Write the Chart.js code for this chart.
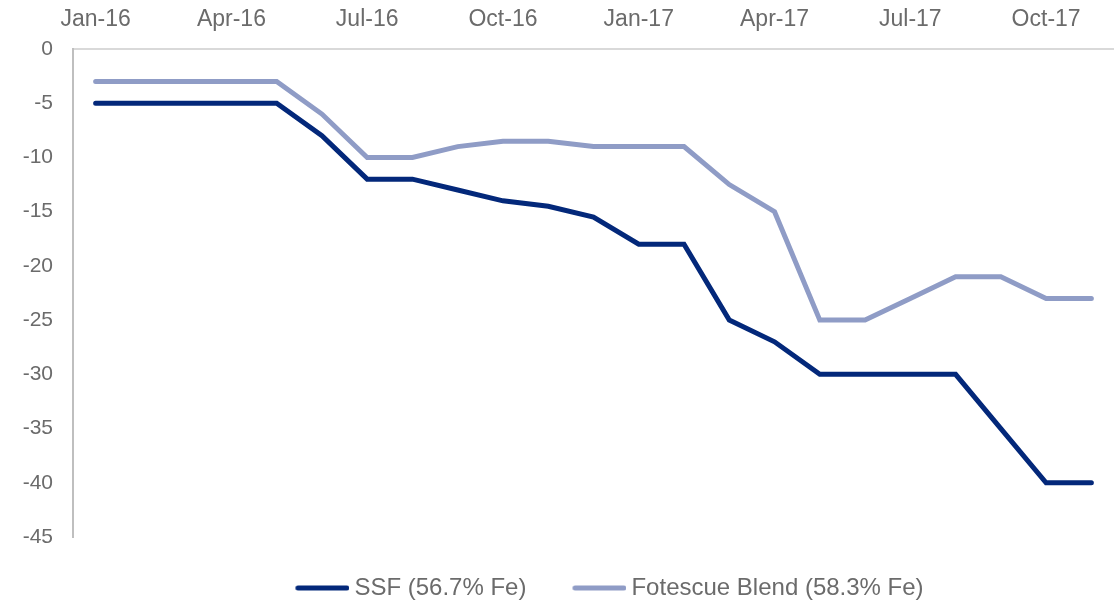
<!DOCTYPE html>
<html>
<head>
<meta charset="utf-8">
<script src="https://cdn.jsdelivr.net/npm/chart.js@4"></script>
<style>
html,body{margin:0;padding:0;background:#fff;}
#wrap{width:1114px;height:600px;position:relative;}
</style>
</head>
<body>
<div id="wrap"><canvas id="c" width="1114" height="600"></canvas></div>
<script>
const months = ['Jan-16','Feb-16','Mar-16','Apr-16','May-16','Jun-16','Jul-16','Aug-16','Sep-16','Oct-16','Nov-16','Dec-16',
                'Jan-17','Feb-17','Mar-17','Apr-17','May-17','Jun-17','Jul-17','Aug-17','Sep-17','Oct-17','Nov-17'];
const ssf = [-5,-5,-5,-5,-5,-8,-12,-12,-13,-14,-14.5,-15.5,-18,-18,-25,-27,-30,-30,-30,-30,-35,-40,-40];
const fortescue = [-3,-3,-3,-3,-3,-6,-10,-10,-9,-8.5,-8.5,-9,-9,-9,-12.5,-15,-25,-25,-23,-21,-21,-23,-23];
const seriesNames = ['SSF (56.7% Fe)','Fotescue Blend (58.3% Fe)'];
const yTicks = {min:-45, max:0, step:5};

const FONT = "'Liberation Sans', Arial, sans-serif";
const TXT = '#6B6B6B';
const C1 = '#03287A', C2 = '#8F9CC6';
const BOXW = 54, SHIFT = 7;

// legend swatch: a thick round-capped line, shifted right so it sits close to its text
function swatch(color) {
  const cv = document.createElement('canvas');
  cv.width = BOXW + 2 * SHIFT; cv.height = 8;
  const g = cv.getContext('2d');
  g.strokeStyle = color; g.lineWidth = 5; g.lineCap = 'round';
  g.beginPath(); g.moveTo(2 * SHIFT + 2.5, 4); g.lineTo(cv.width - 2.5, 4); g.stroke();
  return cv;
}

const legendShift = {
  id: 'legendShift',
  afterLayout(chart) {
    const l = chart.legend;
    if (l) { l.left += 49; l.right += 49; }
  }
};

new Chart(document.getElementById('c'), {
  type: 'line',
  data: {
    labels: months,
    datasets: [
      {label: seriesNames[0], data: ssf, borderColor: C1, backgroundColor: C1, pointStyle: swatch(C1),
       borderWidth: 5, pointRadius: 0, pointHoverRadius: 0, tension: 0, borderCapStyle: 'round', borderJoinStyle: 'miter'},
      {label: seriesNames[1], data: fortescue, borderColor: C2, backgroundColor: C2, pointStyle: swatch(C2),
       borderWidth: 5, pointRadius: 0, pointHoverRadius: 0, tension: 0, borderCapStyle: 'round', borderJoinStyle: 'miter'}
    ]
  },
  plugins: [legendShift],
  options: {
    responsive: false,
    animation: false,
    events: [],
    layout: {padding: {left: 0, right: 0, top: 0, bottom: 0}},
    plugins: {
      legend: {
        position: 'bottom',
        maxHeight: 63,
        labels: {
          usePointStyle: true,
          pointStyleWidth: BOXW,
          boxHeight: 5,
          color: TXT,
          font: {family: FONT, size: 24},
          padding: 39
        }
      },
      tooltip: {enabled: false}
    },
    scales: {
      x: {
        type: 'category',
        position: 'top',
        offset: true,
        grid: {display: false, drawTicks: false},
        border: {display: true, color: '#D9D9D9', width: 2},
        ticks: {
          autoSkip: false, maxRotation: 0, minRotation: 0,
          color: TXT, font: {family: FONT, size: 23}, padding: 16,
          callback: function(v, i) { return i % 3 === 0 ? months[i] : ''; }
        },
        afterFit: function(s) { s.height = 49; }
      },
      y: {
        min: yTicks.min, max: yTicks.max,
        grid: {display: false, drawTicks: false},
        border: {display: true, color: '#BFBFBF', width: 2},
        ticks: {stepSize: yTicks.step, color: TXT, font: {family: FONT, size: 21}, padding: 20},
        afterFit: function(s) { s.width = 73; }
      }
    }
  }
});
</script>
</body>
</html>
